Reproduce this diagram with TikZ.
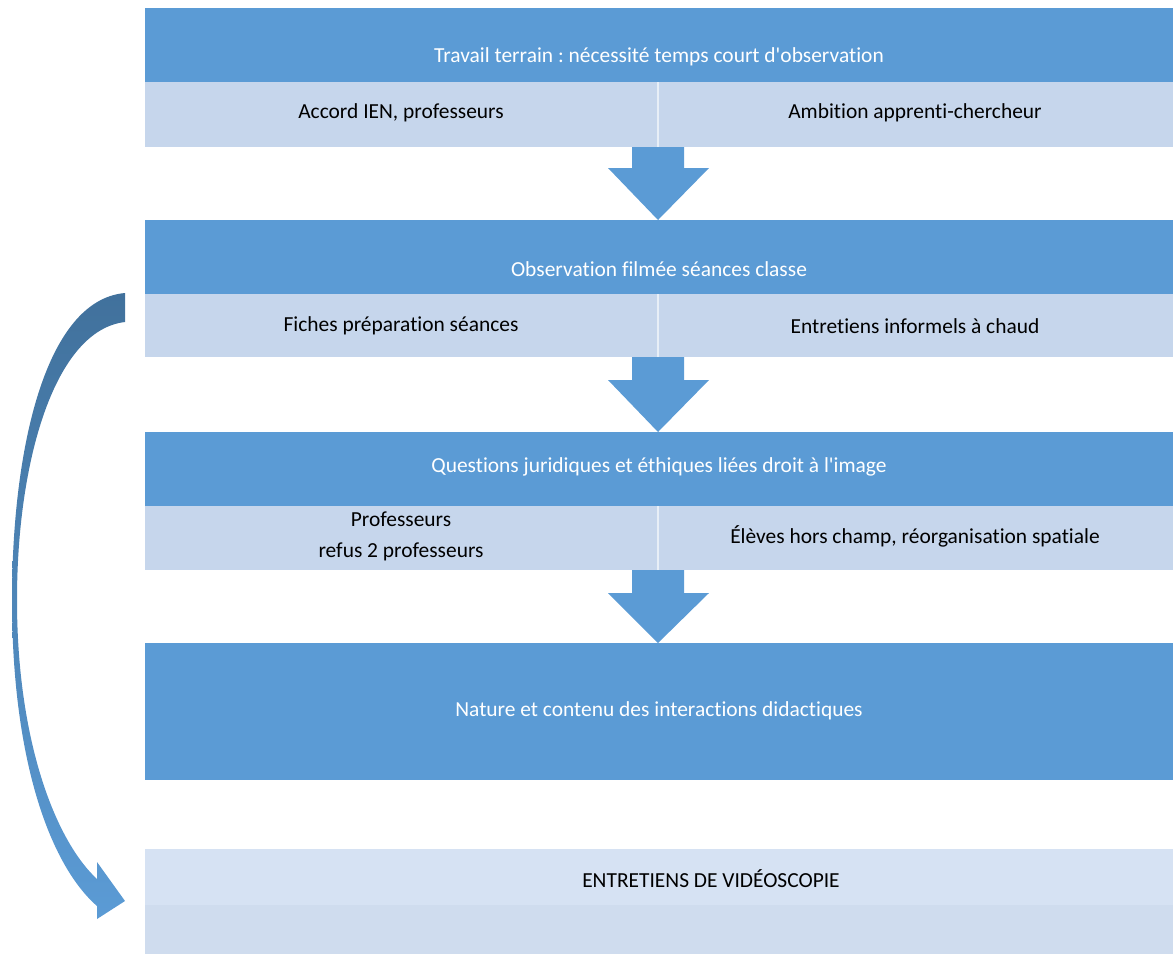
\documentclass[tikz,border=0pt]{standalone}
\usepackage{fontspec}
\setmainfont{Carlito}[Ligatures={TeXOff,NoCommon}]
\begin{document}
\frenchspacing
\begin{tikzpicture}[x=0.02cm,y=-0.02cm, font=\fontsize{12.2}{17.5}\selectfont]
\definecolor{hblue}{HTML}{5B9BD5}
\definecolor{lblue}{HTML}{C6D6EC}
\definecolor{dblue}{HTML}{41719C}
\definecolor{pale1}{HTML}{D6E2F3}
\definecolor{pale2}{HTML}{CFDCEE}
\tikzset{
  htext/.style={text=white, inner sep=0pt},
  stext/.style={text=black, inner sep=0pt, align=center},
  hbox/.style={fill=hblue},
  sbox/.style={fill=lblue},
  divider/.style={draw=white!60!lblue, line width=0.8pt},
  blockarrow/.style={fill=hblue}
}
\useasboundingbox (0,0) rectangle (1173,954);
% row 1
\fill[hbox] (145,8) rectangle (1173,82);
\fill[sbox] (145,82) rectangle (1173,147);
\draw[divider] (658,82) -- (658,147);
\node[htext] (h1) at (659,57) {Travail terrain : nécessité temps court d'observation};
\node[stext] (s1a) at (401,113) {Accord IEN, professeurs};
\node[stext] (s1b) at (915,113) {Ambition apprenti-chercheur};
\fill[blockarrow] (632,147) -- (684,147) -- (684,168) -- (709,168) -- (658,220) -- (608,168) -- (632,168) -- cycle;
% row 2
\fill[hbox] (145,220) rectangle (1173,294);
\fill[sbox] (145,294) rectangle (1173,357);
\draw[divider] (658,294) -- (658,357);
\node[htext] (h2) at (659,269) {Observation filmée séances classe};
\node[stext] (s2a) at (401,326) {Fiches préparation séances};
\node[stext] (s2b) at (915,326) {Entretiens informels à chaud};
\fill[blockarrow] (632,357) -- (684,357) -- (684,380) -- (709,380) -- (658,432) -- (608,380) -- (632,380) -- cycle;
% row 3
\fill[hbox] (145,432) rectangle (1173,506);
\fill[sbox] (145,506) rectangle (1173,570);
\draw[divider] (658,506) -- (658,570);
\node[htext] (h3) at (659,467) {Questions juridiques et éthiques liées droit à l'image};
\node[stext] (s3a) at (401,536) {Professeurs\\refus 2 professeurs};
\node[stext] (s3b) at (915,536) {Élèves hors champ, réorganisation spatiale};
\fill[blockarrow] (632,570) -- (684,570) -- (684,593) -- (709,593) -- (658,643) -- (608,593) -- (632,593) -- cycle;
% row 4
\fill[hbox] (145,643) rectangle (1173,780);
\node[htext] (h4) at (659,711) {Nature et contenu des interactions didactiques};
% bottom
\fill[pale1] (145,849) rectangle (1173,905);
\fill[pale2] (145,905) rectangle (1173,954);
\node[stext] (b1) at (711,879) {ENTRETIENS DE VIDÉOSCOPIE};
% curved arrow
\shade[top color=dblue, bottom color=hblue, middle color=dblue!50!hblue]
  (125,293) .. controls (45,300) and (12,450) .. (12,600)
  .. controls (12,760) and (50,865) .. (97,906)
  -- (97,919) -- (125,901) -- (97,862) -- (97,879)
  .. controls (55,840) and (17,740) .. (17,600)
  .. controls (17,460) and (55,330) .. (125,322) -- cycle;
\end{tikzpicture}
\end{document}
